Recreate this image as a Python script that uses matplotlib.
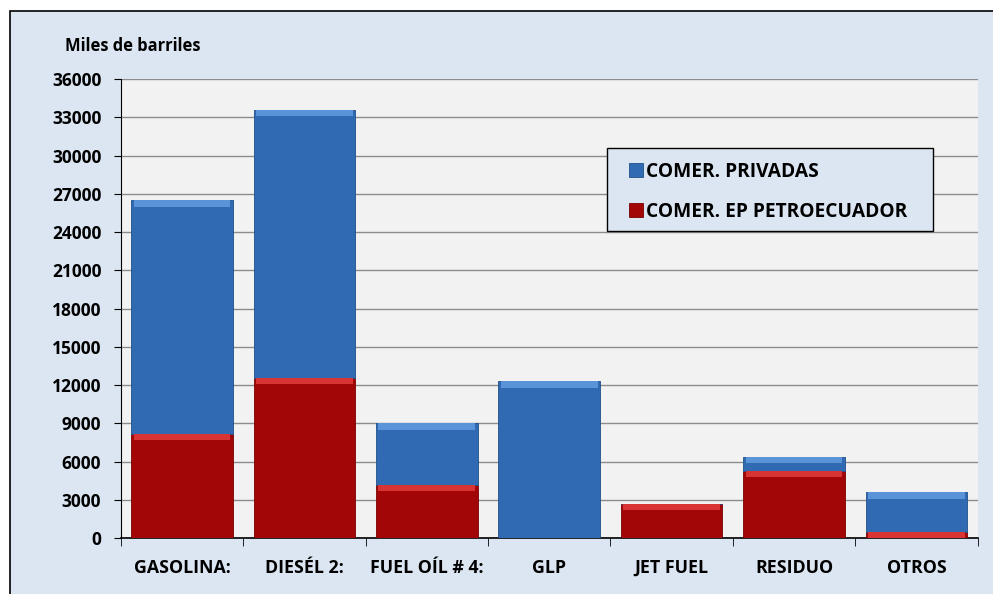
import matplotlib.pyplot as plt
import matplotlib.patches as mpatches
import numpy as np

# Datos (miles de barriles)
productos = ['GASOLINA:', 'DIESÉL 2:', 'FUEL OÍL # 4:', 'GLP', 'JET FUEL', 'RESIDUO', 'OTROS']
ep_petroecuador = [8200, 12600, 4200, 0, 2700, 5300, 500]
privadas = [18300, 21000, 4800, 12300, 0, 1100, 3100]
yticks = list(range(0, 36001, 3000))

azul = '#2f6ab3'
rojo = '#a30606'

plt.rcParams['font.family'] = ['Open Sans', 'DejaVu Sans']

W, H = 993, 594
fig = plt.figure(figsize=(9.93, 5.94), dpi=100)
fig.patch.set_facecolor('white')
# marco exterior
fig.patches.append(mpatches.Rectangle((10 / W, -0.01), 1.0, 1 - 11 / H + 0.01,
                                      transform=fig.transFigure, facecolor='#dce6f2',
                                      edgecolor='black', linewidth=1.2, zorder=-5))

ax = fig.add_axes([0.1216, 0.0938, 0.8630, 0.7732])
ax.set_facecolor('#f2f2f2')

x = np.arange(len(productos))
ep = np.array(ep_petroecuador)
pr = np.array(privadas)
ax.bar(x, ep, width=0.83, color=rojo, edgecolor='#7a0000', linewidth=0.6,
       label='COMER. EP PETROECUADOR', zorder=3)
ax.bar(x, pr, width=0.83, bottom=ep, color=azul, edgecolor='#1f4f8a',
       linewidth=0.6, label='COMER. PRIVADAS', zorder=3)

# bisel claro en la parte superior de cada segmento
bisel = 500
h_ep = np.minimum(ep, bisel)
ax.bar(x, h_ep, width=0.79, bottom=ep - h_ep, color='#d83434', linewidth=0, zorder=4)
h_pr = np.minimum(pr, bisel)
ax.bar(x, h_pr, width=0.79, bottom=ep + pr - h_pr, color='#5a93d8', linewidth=0, zorder=4)

ax.set_xlim(-0.5, len(productos) - 0.5)
ax.set_ylim(0, 36000)
ax.set_yticks(yticks)
ax.set_yticklabels([str(v) for v in yticks], fontsize=12.5, fontweight='bold')
ax.set_xticks(x)
ax.set_xticklabels(productos, fontsize=12.8, fontweight='bold')
ax.tick_params(axis='x', length=0, pad=15)
ax.set_xticks(np.arange(-0.5, len(productos)), minor=True)
ax.tick_params(axis='x', which='minor', length=6, direction='out', color='black')
ax.tick_params(axis='y', length=5, direction='out', color='black', pad=9)

ax.yaxis.grid(True, color='#8c8c8c', linewidth=1.0, zorder=0)
ax.set_axisbelow(True)
for s in ['top', 'right']:
    ax.spines[s].set_visible(False)
ax.spines['left'].set_color('black')
ax.spines['bottom'].set_color('black')
ax.spines['bottom'].set_linewidth(1.2)

fig.text(65 / W, 1 - 46 / H, 'Miles de barriles', fontsize=11.9, fontweight='bold',
         va='center', ha='left')

# caja de la leyenda
fig.patches.append(mpatches.Rectangle((607 / W, 1 - 231 / H), (933 - 607) / W, (231 - 148) / H,
                                      transform=fig.transFigure, facecolor='#dce6f2',
                                      edgecolor='black', linewidth=1.0, zorder=5))
handles, labels = ax.get_legend_handles_labels()
leg = fig.legend(handles[::-1], labels[::-1], loc='center left',
                 bbox_to_anchor=(629 / W, 1 - 192 / H),
                 prop={'weight': 'bold', 'size': 13.8}, frameon=False,
                 handlelength=0.75, handleheight=0.75, handletextpad=0.15,
                 labelspacing=1.05, borderpad=0, borderaxespad=0)
leg.set_zorder(6)

fig.savefig('out.png', dpi=100)
